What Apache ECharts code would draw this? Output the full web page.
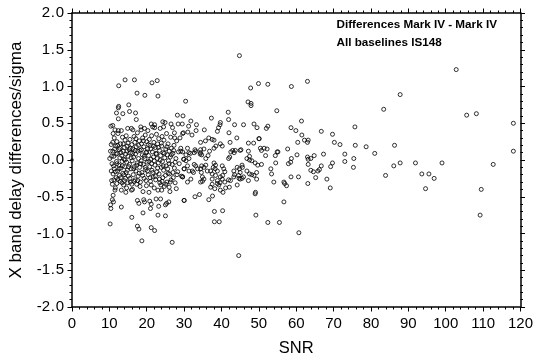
<!DOCTYPE html>
<html>
<head>
<meta charset="utf-8">
<script src="https://cdn.jsdelivr.net/npm/echarts@6/dist/echarts.min.js"></script>
<style>
html,body{margin:0;padding:0;background:#fff;}
#chart{width:536px;height:362px;}
</style>
</head>
<body>
<div id="chart"></div>
<script>
const titleLines = ['Differences Mark IV - Mark IV', 'All baselines IS148'];
const xAxisName = 'SNR';
const yAxisName = 'X band delay differences/sigma';
const xRange = [0, 120, 10];
const yRange = [-2, 2, 0.5];

const originPoint = [[0, 0]];

const snr10to20 = [
[10.1,0.02],[10.2,-0.87],[10.3,-0.61],[10.4,-0.66],[10.4,0.46],[10.5,0.21],[10.6,-0.28],[10.7,-0.05],[10.8,-0.54],[10.9,0.12],
[11.0,-0.48],[11.0,-0.19],[11.1,-0.57],[11.2,0.05],[11.3,0.30],[11.3,-0.12],[11.5,0.41],[11.5,-0.41],[11.6,-0.38],[11.7,0.19],
[11.8,-0.24],[11.9,0.64],[11.9,-0.02],[12.0,0.25],[12.0,-0.32],[10.3,0.12],[10.5,-0.15],[10.6,0.05],[10.8,-0.33],[10.9,0.24],
[11.1,-0.08],[11.2,-0.27],[11.4,0.15],[11.6,-0.16],[11.8,0.08],[12.0,-0.05],[12.2,0.20],[12.3,-0.26],[12.6,-0.12],[12.8,0.16],
[13.0,-0.24],[13.1,0.10],[13.4,-0.31],[13.5,-0.08],[13.7,0.22],[13.9,-0.20],[10.9,0.47],[11.0,0.36],
[12.1,0.09],[12.2,-0.15],[12.3,0.36],[12.4,0.40],[12.4,0.56],[12.4,0.71],[12.5,1.01],[12.5,0.73],[12.5,-0.07],[12.6,0.14],
[12.7,-0.21],[12.8,0.03],[12.9,-0.29],[13.0,0.22],[13.1,-0.11],[13.2,0.40],[13.2,-0.41],[13.2,-0.64],[13.3,0.06],[13.4,-0.02],
[13.5,0.31],[13.6,0.63],[13.6,-0.18],[13.7,0.12],[13.8,-0.34],[13.9,0.01],[14.0,0.17],
[14.1,-0.09],[14.2,1.09],[14.2,0.27],[14.3,-0.25],[14.4,-0.44],[14.4,0.08],[14.5,0.33],[14.6,-0.38],[14.6,-0.03],[14.7,0.19],
[14.8,-0.14],[14.9,0.43],[15.0,0.05],[15.1,-0.22],[15.2,0.75],[15.3,0.14],[15.4,0.66],[15.4,-0.06],[15.5,0.28],[15.6,-0.30],
[15.7,0.10],[15.8,-0.12],[15.9,0.43],[15.9,-0.41],[16.0,-0.78],[16.0,0.21],[14.0,-0.28],[14.2,0.00],[14.5,-0.17],[14.7,0.12],
[14.9,-0.31],[15.0,0.23],[15.2,-0.09],[15.5,-0.25],[15.6,0.16],[15.8,0.03],[16.0,-0.33],[16.2,0.09],[16.5,-0.12],[16.6,-0.29],
[16.9,0.13],[17.1,0.29],[17.3,-0.07],[17.6,-0.28],[17.8,0.20],[18.0,-0.18],
[16.1,-0.01],[16.2,-0.40],[16.3,0.41],[16.3,0.15],[16.4,-0.20],[16.5,0.04],[16.6,0.32],[16.7,1.09],[16.7,-0.09],[16.8,0.24],
[16.9,-0.27],[17.0,0.64],[17.0,0.08],[17.1,-0.15],[17.2,0.55],[17.2,0.18],[17.3,-0.33],[17.4,0.91],[17.4,-0.04],[17.5,0.37],
[17.5,-0.55],[17.5,-0.90],[17.6,0.12],[17.7,-0.22],[17.8,0.02],[17.9,-0.59],[17.9,-0.94],[18.0,0.26],
[18.1,-0.10],[18.2,0.13],[18.3,-0.30],[18.4,0.45],[18.5,0.41],[18.5,-0.01],[18.6,0.22],[18.7,-1.10],[18.7,-0.17],[18.8,0.07],
[18.9,0.30],[19.0,-0.72],[19.0,-0.43],[19.1,-0.06],[19.2,0.18],[19.2,-0.54],[19.3,-0.25],[19.4,0.43],[19.4,-0.57],[19.5,0.88],
[19.5,0.02],[19.6,0.34],[19.7,-0.13],[19.8,0.10],[19.9,-0.35],[20.0,0.25],[18.2,-0.36],[18.4,-0.05],[18.6,0.14],[18.9,-0.21],
[19.1,0.26],[19.3,0.05],[19.6,-0.10],[19.8,-0.28],[20.0,0.11]
];

const snr20to30 = [
[20.1,-0.03],[20.2,0.15],[20.3,0.40],[20.4,-0.20],[20.5,0.06],[20.6,-0.44],[20.7,0.28],[20.8,-0.56],[20.8,-0.09],[20.9,0.20],
[21.0,-0.66],[21.0,-0.29],[21.1,0.01],[21.2,-0.34],[21.2,-0.60],[21.2,-0.92],[21.3,0.33],[21.4,1.05],[21.4,-0.14],[21.5,0.11],
[21.6,0.45],[21.7,-0.23],[21.8,0.04],[21.9,0.24],[22.0,-0.38],[22.1,0.48],[22.1,-0.96],[21.2,0.49],[22.1,0.44],
[20.2,-0.15],[20.4,0.21],[20.6,-0.02],[20.9,-0.24],[21.1,0.15],[21.3,-0.05],[21.6,-0.17],[21.8,0.19],[22.0,-0.01],
[22.2,-0.07],[22.3,0.17],[22.4,-0.27],[22.5,-0.53],[22.5,0.09],[22.6,0.35],[22.7,-0.16],[22.8,1.08],[22.8,0.02],[22.9,0.22],
[23.0,0.87],[23.0,-0.75],[23.0,-0.41],[23.1,-0.04],[23.2,-0.63],[23.2,0.29],[23.3,-0.19],[23.4,0.13],[23.5,-0.31],[23.6,0.43],
[23.7,-0.53],[23.7,0.06],[23.8,-0.34],[23.9,-0.10],[24.0,-0.41],[24.0,0.19],[22.3,-0.22],[22.6,0.08],[22.9,-0.11],[23.1,0.17],
[23.4,-0.26],[23.6,0.00],[23.9,0.23],[24.1,-0.29],[24.4,-0.08],[24.7,0.09],[25.1,-0.33],[25.4,0.18],[25.7,-0.18],[26.0,-0.05],
[26.3,-0.30],[26.6,0.07],[27.0,-0.17],[27.2,0.13],[27.6,-0.03],[28.1,-0.20],
[24.1,0.32],[24.3,0.52],[24.2,-0.02],[24.3,-0.24],[24.4,0.10],[24.5,0.45],[24.5,-0.14],[24.6,0.27],[24.7,-0.36],[24.8,0.03],
[24.9,0.51],[25.0,-0.61],[25.0,-0.76],[25.0,-0.21],[25.1,0.15],[25.2,-0.08],[25.3,-0.59],[25.3,0.36],[25.4,-0.30],[25.5,0.07],
[25.6,-0.12],[25.7,0.22],[25.8,-0.01],[25.9,-0.57],[26.0,-0.37],[26.0,0.12],
[26.1,-0.19],[26.2,-0.43],[26.3,0.04],[26.4,0.31],[26.5,0.49],[26.5,-0.27],[26.6,0.16],[26.8,-1.12],[26.8,-0.06],[26.9,0.44],
[27.0,0.09],[27.4,0.37],[27.1,-0.24],[27.3,0.20],[27.4,-0.11],[27.5,0.30],[27.6,-0.31],[27.8,0.02],[27.9,-0.39],[28.0,0.26],
[28.2,0.61],[28.4,0.49],[28.3,-0.16],[28.5,0.11],[28.7,-0.05],[28.9,0.30],[29.1,0.16],[29.1,0.12],[29.3,-0.22],[29.5,0.49],
[29.6,0.36],[29.6,0.11],[29.6,-0.23],[29.7,0.60],[29.8,0.37],[29.9,0.01],[30.0,-0.12],[30.0,-0.55]
];

const snr30to50 = [
[30.4,0.80],[44.8,1.42],[47.8,0.98],[49.9,1.04],[47.1,0.79],[47.9,0.77],[47.9,0.74],[41.8,0.65],[41.9,0.55],[37.3,0.57],
[45.9,0.48],[43.5,0.48],[48.7,0.49],[49.5,0.44],[31.8,0.53],[33.3,0.48],[31.2,0.46],[33.2,0.40],[31.0,0.38],[32.1,0.34],
[39.7,0.51],[39.6,0.48],[39.2,0.44],[38.9,0.39],[35.4,0.41],[42.0,0.37],[35.7,0.26],[36.6,0.30],[37.5,0.28],[38.0,0.27],
[34.4,0.24],[44.1,0.30],[42.3,0.24],[50.0,0.29],[47.2,0.23],[48.6,0.23],[45.0,0.13],[47.2,0.12],[47.5,0.05],[50.4,0.16],
[42.5,0.11],[43.0,0.13],[43.7,0.13],[43.4,0.10],[45.2,0.14],[42.2,0.04],[41.9,0.02],[36.8,0.12],[36.4,0.06],[35.8,0.02],
[35.3,0.15],[38.0,0.16],[38.5,0.19],[39.7,0.22],[40.2,0.19],[34.4,0.14],[34.4,0.10],[34.7,0.07],[32.9,0.14],[33.1,0.12],
[32.7,0.10],[34.3,0.08],[31.7,0.09],[31.3,0.02],[30.9,0.16],[31.3,0.10],[30.5,0.07],
[46.8,0.02],[47.5,0.00],[48.1,-0.01],[49.0,-0.04],[49.7,-0.07],[45.5,-0.07],[44.8,-0.12],[45.0,-0.17],[45.6,-0.10],[44.2,-0.10],
[43.3,-0.15],[43.5,-0.20],[44.6,-0.21],[46.8,-0.15],[47.5,-0.19],[48.1,-0.20],[49.4,-0.17],[48.7,-0.21],[40.2,-0.08],[40.6,-0.12],
[40.9,-0.16],[40.3,-0.21],[38.0,-0.04],[38.4,-0.07],[37.8,-0.10],[38.3,-0.12],[38.9,-0.15],[37.1,-0.15],[37.5,-0.19],[34.7,-0.08],
[35.3,-0.10],[35.8,-0.07],[34.4,-0.12],[34.6,-0.17],[36.2,-0.15],[32.7,-0.06],[33.1,-0.08],[33.6,-0.12],[32.2,-0.15],[32.5,-0.17],
[29.9,0.01],[30.5,-0.01],[30.9,-0.08],[30.0,-0.12],[31.3,-0.15],[34.9,-0.23],[35.3,-0.26],[37.5,-0.26],[38.4,-0.21],[38.9,-0.28],
[39.7,-0.23],[42.4,-0.28],[43.3,-0.23],[45.0,-0.26],[45.9,-0.23],[47.2,-0.28],[49.4,-0.26],[38.9,-0.32],[34.4,-0.30],[30.9,-0.30],
[31.8,-0.26],[29.6,-0.23],[34.9,-0.29],
[30.0,-0.55],[32.9,-0.50],[34.1,-0.47],[36.6,-0.54],[37.6,-0.49],[37.1,-0.37],[38.2,-0.39],[39.7,-0.41],[40.4,-0.44],[41.1,-0.38],
[42.1,-0.37],[44.2,-0.34],[49.1,-0.44],[49.0,-0.46],[38.1,-0.70],[40.3,-0.69],[38.1,-0.84],[39.4,-0.84],[49.2,-0.75],[44.6,-1.30],
[37.5,-0.33],[39.3,-0.34],[39.6,-0.31],[40.2,-0.26],[40.9,-0.30],[41.9,-0.27],[44.7,-0.25],[45.5,-0.25]
];

const snr50up = [
[52.4,1.03],[58.7,1.00],[63.0,1.07],[54.8,0.67],[83.4,0.69],[52.0,0.43],[52.4,0.46],[61.4,0.53],[58.6,0.44],[59.9,0.40],
[75.7,0.45],[66.7,0.39],[69.7,0.35],[61.5,0.34],[50.1,0.29],[60.4,0.24],[62.2,0.27],[63.2,0.27],[63.0,0.24],[70.2,0.24],
[71.7,0.21],[75.8,0.20],[78.7,0.18],[81.0,0.09],[73.0,0.08],[75.4,0.02],[73.0,-0.02],[75.3,-0.10],[83.9,-0.21],[50.7,0.13],
[51.4,0.16],[52.2,0.15],[51.8,0.06],[54.4,0.06],[54.9,0.11],[55.1,0.11],[57.7,0.15],[60.2,0.07],[58.7,0.02],[58.5,-0.03],
[57.9,-0.05],[54.5,-0.04],[50.7,-0.06],[53.2,-0.12],[53.4,-0.19],[54.0,-0.30],[56.7,-0.30],[56.9,-0.32],[57.4,-0.35],[58.6,-0.23],
[60.6,-0.23],[63.0,0.04],[63.2,0.01],[63.9,0.02],[64.8,0.06],[63.2,-0.06],[63.9,-0.14],[64.6,-0.16],[65.8,-0.15],[66.2,-0.13],
[67.3,0.08],[66.7,-0.08],[69.2,-0.09],[69.7,-0.04],[63.1,-0.32],[65.2,-0.24],[68.2,-0.26],[69.1,-0.38],[56.7,-0.57],[52.4,-0.85],
[55.5,-0.85],[60.7,-0.99],
[102.8,1.23],[87.8,0.89],[105.6,0.61],[108.2,0.63],[118.1,0.50],[86.3,0.20],[118.1,0.12],[86.1,-0.08],[87.8,-0.04],[91.9,-0.04],
[99.0,-0.04],[112.7,-0.06],[93.6,-0.19],[95.5,-0.19],[96.9,-0.25],[94.6,-0.39],[109.5,-0.40],[109.2,-0.75]
];

const FONT = '"Liberation Sans", Arial, Helvetica, sans-serif';
const chart = echarts.init(document.getElementById('chart'), null, {renderer: 'canvas'});

const ringStyle = {color: 'rgba(0,0,0,0)', borderColor: '#000', borderWidth: 1};
function ringSeries(data) {
  return {type: 'scatter', data: data, symbol: 'circle', symbolSize: 4, itemStyle: ringStyle,
          xAxisIndex: 0, yAxisIndex: 0, silent: true, clip: false};
}

const axisLineStyle = {show: true, onZero: false, lineStyle: {color: '#000', width: 1.5}};
const tickStyle = {show: true, inside: false, length: 4.5, lineStyle: {color: '#000', width: 1}};
const minorStyle = {show: true, splitNumber: 5, length: 2.5, lineStyle: {color: '#000', width: 1}};

function yLabel(v) {
  const s = v.toFixed(1);
  const parts = s.split('.');
  return '{n|' + parts[0] + '}{p|.}{n|' + parts[1] + '}';
}

chart.setOption({
  animation: false,
  backgroundColor: '#fff',
  grid: {left: 70, right: 12, top: 13, bottom: 47, containLabel: false},
  xAxis: [
    {type: 'value', position: 'bottom', min: xRange[0], max: xRange[1], interval: xRange[2],
     name: xAxisName, nameLocation: 'middle', nameGap: 33,
     nameTextStyle: {fontFamily: FONT, fontSize: 16.5, color: '#000'},
     axisLine: axisLineStyle, axisTick: tickStyle, minorTick: minorStyle,
     splitLine: {show: false},
     axisLabel: {fontFamily: FONT, fontSize: 15, color: '#000', margin: 9}},
    {type: 'value', position: 'top', min: xRange[0], max: xRange[1], interval: xRange[2],
     axisLine: axisLineStyle, axisTick: tickStyle, minorTick: minorStyle,
     splitLine: {show: false}, axisLabel: {show: false}}
  ],
  yAxis: [
    {type: 'value', position: 'left', min: yRange[0], max: yRange[1], interval: yRange[2],
     name: yAxisName, nameLocation: 'middle', nameGap: 47, nameRotate: 90,
     nameTextStyle: {fontFamily: FONT, fontSize: 17, color: '#000'},
     axisLine: axisLineStyle, axisTick: tickStyle, minorTick: minorStyle,
     splitLine: {show: false},
     axisLabel: {formatter: yLabel, margin: 8, color: '#000',
       rich: {n: {fontFamily: FONT, fontSize: 15, color: '#000'},
              p: {fontFamily: FONT, fontSize: 15, color: '#000', width: 5.5, align: 'center'}}}},
    {type: 'value', position: 'right', min: yRange[0], max: yRange[1], interval: yRange[2],
     axisLine: axisLineStyle, axisTick: tickStyle, minorTick: minorStyle,
     splitLine: {show: false}, axisLabel: {show: false}}
  ],
  graphic: [
    {type: 'text', left: 336.5, top: 18.5, style: {text: titleLines[0], font: 'bold 11.7px ' + FONT, fill: '#000'}},
    {type: 'text', left: 336.5, top: 36.8, style: {text: titleLines[1], font: 'bold 11.7px ' + FONT, fill: '#000'}}
  ],
  series: [
    ringSeries(snr10to20),
    ringSeries(snr20to30),
    ringSeries(snr30to50),
    ringSeries(snr50up),
    {type: 'scatter', data: originPoint, symbol: 'circle', symbolSize: 3.5,
     itemStyle: {color: '#000'}, silent: true, clip: false}
  ]
});
</script>
</body>
</html>
